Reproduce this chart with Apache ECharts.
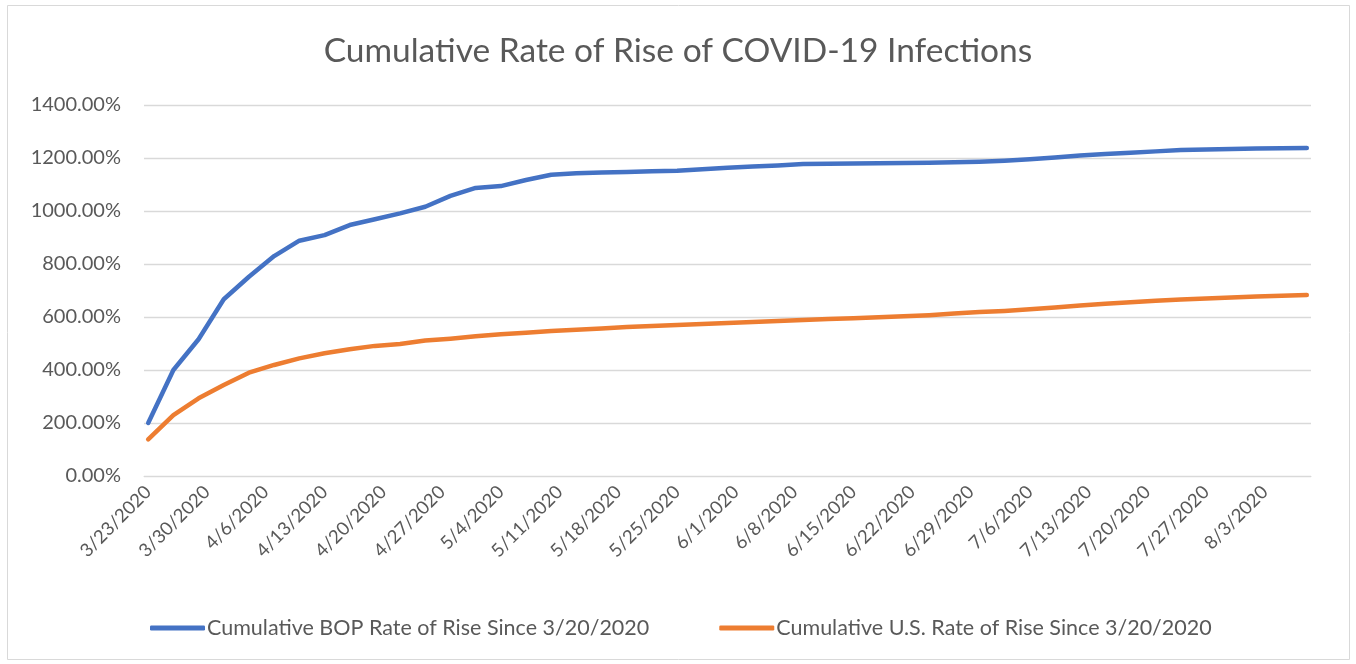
<!DOCTYPE html>
<html>
<head>
<meta charset="utf-8">
<script src="https://cdn.jsdelivr.net/npm/echarts@6/dist/echarts.min.js"></script>
<style>
html,body{margin:0;padding:0;background:#fff;}
#chart{width:1356px;height:664px;}
</style>
</head>
<body>
<div id="chart"></div>
<script>
// ---- data ----
const titleText = 'Cumulative Rate of Rise of COVID-19 Infections';
const seriesNames = ['Cumulative BOP Rate of Rise Since 3/20/2020', 'Cumulative U.S. Rate of Rise Since 3/20/2020'];
const axisStart = [2020, 3, 23];   // first day on the date axis
const axisDays = 139;              // 3/23/2020 .. 8/8/2020
const dataDates = [
  '3/23/2020','3/26/2020','3/29/2020','4/1/2020','4/4/2020','4/7/2020','4/10/2020','4/13/2020',
  '4/16/2020','4/19/2020','4/22/2020','4/25/2020','4/28/2020','5/1/2020','5/4/2020','5/7/2020',
  '5/10/2020','5/13/2020','5/16/2020','5/19/2020','5/22/2020','5/25/2020','5/28/2020','5/31/2020',
  '6/3/2020','6/6/2020','6/9/2020','6/12/2020','6/15/2020','6/18/2020','6/21/2020','6/24/2020',
  '6/27/2020','6/30/2020','7/3/2020','7/6/2020','7/9/2020','7/12/2020','7/15/2020','7/18/2020',
  '7/21/2020','7/24/2020','7/27/2020','7/30/2020','8/2/2020','8/5/2020','8/8/2020'
];
const bopValues = [
  200, 400, 516, 667, 752, 830, 888, 909,
  947, 969, 991, 1016, 1057, 1087, 1094, 1117,
  1137, 1142, 1145, 1147, 1150, 1152, 1158, 1163,
  1168, 1172, 1177, 1178, 1179, 1180, 1181, 1182,
  1184, 1186, 1190, 1195, 1202, 1209, 1215, 1220,
  1225, 1230, 1232, 1234, 1236, 1237, 1238
];
const usValues = [
  138, 230, 293, 343, 390, 419, 444, 463,
  478, 491, 498, 511, 518, 527, 535, 541,
  547, 552, 557, 562, 566, 570, 574, 577,
  581, 585, 589, 592, 595, 599, 603, 607,
  613, 619, 623, 629, 636, 643, 650, 656,
  661, 666, 670, 674, 677, 680, 683
];
const yMin = 0, yMax = 1400, yStep = 200;
const colors = ['#4472C4', '#ED7D31'];

// daily categories for the date axis
const dayCategories = [];
for (let i = 0; i < axisDays; i++) {
  const d = new Date(Date.UTC(axisStart[0], axisStart[1] - 1, axisStart[2] + i));
  dayCategories.push((d.getUTCMonth() + 1) + '/' + d.getUTCDate() + '/' + d.getUTCFullYear());
}

const FONT = 'Lato, "Open Sans", sans-serif';
const TXT = '#595959';

const chart = echarts.init(document.getElementById('chart'), null, {renderer: 'canvas'});
chart.setOption({
  backgroundColor: '#fff',
  animation: false,
  color: colors,
  title: {
    text: titleText,
    left: 'center',
    top: 29,
    textStyle: {fontFamily: FONT, fontSize: 33.5, fontWeight: 'normal', color: TXT}
  },
  graphic: [{
    type: 'rect',
    shape: {x: 7.5, y: 5.5, width: 1342, height: 654},
    style: {fill: 'none', stroke: '#d9d9d9', lineWidth: 1},
    silent: true
  }],
  grid: {left: 144, right: 45, top: 105, bottom: 188, containLabel: false},
  legend: {
    left: 145,
    top: 612,
    itemGap: 70,
    itemWidth: 55,
    itemHeight: 5,
    icon: 'roundRect',
    textStyle: {fontFamily: FONT, fontSize: 21.5, color: TXT, padding: [0, 0, 0, -3]},
    data: seriesNames
  },
  xAxis: {
    type: 'category',
    data: dayCategories,
    boundaryGap: true,
    axisLine: {show: true, lineStyle: {color: '#d9d9d9', width: 1}},
    axisTick: {show: false},
    axisLabel: {
      interval: 6,
      rotate: 45,
      margin: 13,
      fontFamily: FONT,
      fontSize: 18.5,
      color: TXT
    },
    splitLine: {show: false}
  },
  yAxis: {
    type: 'value',
    min: yMin,
    max: yMax,
    interval: yStep,
    axisLine: {show: false},
    axisTick: {show: false},
    axisLabel: {
      margin: 23,
      fontFamily: FONT,
      fontSize: 20,
      color: TXT,
      formatter: v => v.toFixed(2) + '%'
    },
    splitLine: {lineStyle: {color: '#d9d9d9', width: 1.3}}
  },
  series: [
    {
      name: seriesNames[0],
      type: 'line',
      data: dataDates.map((d, i) => [d, bopValues[i]]),
      showSymbol: false,
      lineStyle: {width: 4.5, cap: 'round', join: 'round'}
    },
    {
      name: seriesNames[1],
      type: 'line',
      data: dataDates.map((d, i) => [d, usValues[i]]),
      showSymbol: false,
      lineStyle: {width: 4.5, cap: 'round', join: 'round'}
    }
  ]
});
</script>
</body>
</html>
